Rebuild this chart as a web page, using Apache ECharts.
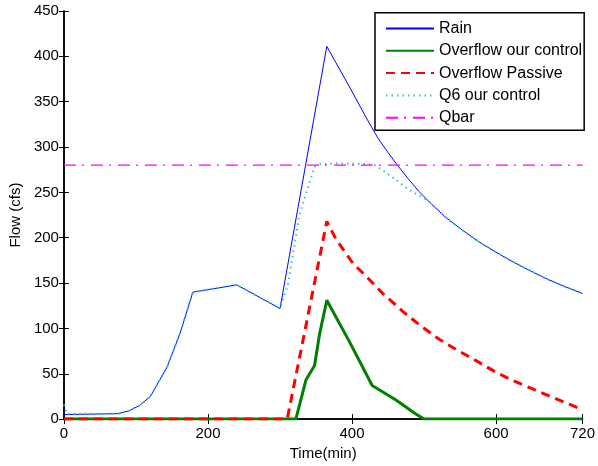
<!DOCTYPE html>
<html><head><meta charset="utf-8">
<script src="https://cdn.jsdelivr.net/npm/echarts@6/dist/echarts.min.js"></script>
<style>html,body{margin:0;padding:0;background:#fff}#c{width:598px;height:466px}</style>
</head><body><div id="c"></div>
<script>
var rainT = [0,75,90,105,120,143,161,179,240,300,365,396,420,430,437,450,463,478,493,511,530,553,576,599,622,645,668,694,720];
var rainV = [5,6,9,15,25,57,94,140,148,122,411,367,332,318,308.5,294,280,265,251,236.5,222.5,208.5,195.5,184.5,174,164.5,155.5,146.5,138.5];
var ourT = [0,322,336,348,355,365,396,428,461,488,500,720];
var ourV = [0,0,43,59,94,131,86,37,21,6,0,0];
var pasT = [0,310,365,378,401,421.5,442,470,495,521,544,571,599,622,650,677,705,720];
var pasV = [0,0,218,198,172,156,139,119,103,88,77,65,52,43,33.5,24.4,15.3,10];
var q6T = [0,4,75,90,105,120,143,161,179,240,300,311,327,341,348,355,380,430,447,477,507,530,553,576,599,622,645,668,694,720];
var q6V = [16,6,6,9,15,25,57,94,140,148,122,148,225,261,278,281,282,281,272,254,240,222.5,208.5,195.5,184.5,174,164.5,155.5,146.5,138.5];
var qbarT = [0,720];
var qbarV = [280,280];
var seriesNames = ['Rain','Overflow our control','Overflow Passive','Q6 our control','Qbar'];
var xTicks = [0,200,400,600,720];
var yMax = 450, yStep = 50;

function zip(a,b){return a.map(function(v,i){return [v,b[i]];});}
var FONT = 'Liberation Sans';
var chart = echarts.init(document.getElementById('c'));
var axisLine = {show:true,lineStyle:{color:'#000',width:1.5}};
chart.setOption({
  animation:false,
  backgroundColor:'#fff',
  textStyle:{fontFamily:FONT},
  grid:{left:63,right:14,top:11,bottom:44,containLabel:false},
  xAxis:[{
    type:'value',min:0,max:720,interval:200,position:'bottom',
    name:'Time(min)',nameLocation:'middle',nameGap:24,
    nameTextStyle:{fontSize:15,color:'#000',fontFamily:FONT},
    axisLine:axisLine,
    axisTick:{inside:true,length:5,lineStyle:{color:'#000'}},
    axisLabel:{fontSize:15,color:'#000',margin:7,fontFamily:FONT,showMaxLabel:true},
    splitLine:{show:false}
  },{
    type:'value',min:0,max:720,interval:200,position:'top',
    axisLine:axisLine,
    axisTick:{inside:true,length:5,lineStyle:{color:'#000'}},
    axisLabel:{show:false},splitLine:{show:false}
  }],
  yAxis:[{
    type:'value',min:0,max:yMax,interval:yStep,position:'left',
    name:'Flow (cfs)',nameLocation:'middle',nameGap:38,
    nameTextStyle:{fontSize:15,color:'#000',fontFamily:FONT},
    axisLine:axisLine,
    axisTick:{inside:true,length:5,lineStyle:{color:'#000'}},
    axisLabel:{fontSize:15,color:'#000',margin:5,fontFamily:FONT},
    splitLine:{show:false}
  },{
    type:'value',min:0,max:yMax,interval:yStep,position:'right',
    axisLine:axisLine,
    axisTick:{inside:true,length:5,lineStyle:{color:'#000'}},
    axisLabel:{show:false},splitLine:{show:false}
  }],
  legend:{
    orient:'vertical',left:375,top:12.7,
    data:seriesNames,
    itemWidth:48,itemHeight:14,itemGap:6.3,
    padding:[7.8,2,4.6,10],
    borderColor:'#000',borderWidth:1.5,backgroundColor:'#fff',
    itemStyle:{opacity:0},
    textStyle:{fontSize:16,color:'#000',fontFamily:FONT}
  },
  series:[
    {name:seriesNames[0],type:'line',data:zip(rainT,rainV),symbol:'none',
     lineStyle:{color:'#0000ff',width:1},itemStyle:{color:'#0000ff'},z:2},
    {name:seriesNames[1],type:'line',data:zip(ourT,ourV),symbol:'none',
     lineStyle:{color:'#008000',width:3},itemStyle:{color:'#008000'},z:3},
    {name:seriesNames[2],type:'line',data:zip(pasT,pasV),symbol:'none',
     lineStyle:{color:'#ff0000',width:3,type:[9,6]},itemStyle:{color:'#ff0000'},z:4},
    {name:seriesNames[3],type:'line',data:zip(q6T,q6V),symbol:'none',
     lineStyle:{color:'#2ec4c4',width:2,type:[1.5,4]},itemStyle:{color:'#2ec4c4'},z:5},
    {name:seriesNames[4],type:'line',data:zip(qbarT,qbarV),symbol:'none',
     lineStyle:{color:'#ff00ff',width:1.2,type:[12,6,2,7]},itemStyle:{color:'#ff00ff'},z:6}
  ]
});
</script></body></html>
